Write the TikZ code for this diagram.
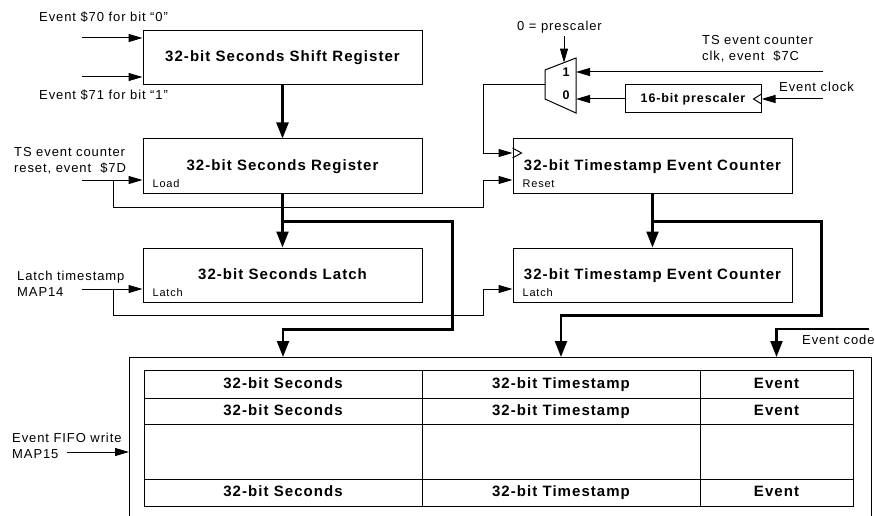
\documentclass[tikz,border=0pt]{standalone}
\usepackage{fontspec}
\setmainfont{Liberation Sans}[LetterSpace=7]
\usetikzlibrary{arrows.meta}

\tikzset{
  regbox/.style={draw, line width=1pt, minimum width=279pt, minimum height=54pt,
    inner sep=0pt, text height=11pt, text depth=3pt, font=\bfseries\fontsize{15}{18}\selectfont},
  tag/.style={inner sep=0pt, anchor=base west, font=\fontsize{11}{13}\selectfont},
  lbl/.style={inner sep=0pt, anchor=west, align=left, font=\fontsize{13}{16}\selectfont},
  cell/.style={inner sep=0pt, text height=11pt, text depth=3pt, font=\bfseries\fontsize{15}{18}\selectfont},
  wire/.style={line width=1pt},
  sig/.style={line width=1pt, -{Triangle[length=14pt,width=8pt]}},
  bus/.style={line width=2.3pt, -{Triangle[length=16pt,width=12pt]}},
}

\begin{document}
\begin{tikzpicture}[x=1pt,y=-1pt]
  \useasboundingbox (0,0) rectangle (875,516);
  \clip (0,0) rectangle (875,516);

  % registers
  \node[regbox] (sreg) at (282.5,58) {32-bit Seconds Shift Register};
  \node[regbox] (sec) at (282.5,166) {32-bit Seconds Register};
  \node[regbox] (slatch) at (282.5,275) {32-bit Seconds Latch};
  \node[regbox] (tsc) at (652.5,166) {32-bit Timestamp Event Counter};
  \node[regbox] (tslatch) at (652.5,275) {32-bit Timestamp Event Counter};
  \node[tag] (secload) at ([xshift=10pt,yshift=6pt]sec.south west) {Load};
  \node[tag] (slatchin) at ([xshift=10pt,yshift=6pt]slatch.south west) {Latch};
  \node[tag] (tscrst) at ([xshift=10pt,yshift=6pt]tsc.south west) {Reset};
  \node[tag] (tslatchin) at ([xshift=10pt,yshift=6pt]tslatch.south west) {Latch};

  % prescaler and mux
  \node[draw, line width=1pt, minimum width=136pt, minimum height=28pt, inner sep=0pt,
    font=\bfseries\fontsize{12.5}{15}\selectfont] (pre) at (693,99) {16-bit prescaler\hspace{8pt}};
  \draw[wire] ([yshift=5pt]pre.east) -- ([xshift=-8pt]pre.east) -- ([yshift=-5pt]pre.east);
  \draw[wire] (545,70) -- (576,58) -- (576,113) -- (545,99) -- cycle;
  \coordinate (muxout) at (545,85);
  \coordinate (mux1) at (576,72);
  \coordinate (mux0) at (576,99);
  \coordinate (muxsel) at (564,62.6);
  \node[cell, font=\bfseries\fontsize{12.5}{15}\selectfont] (m1) at (566,73) {1};
  \node[cell, font=\bfseries\fontsize{12.5}{15}\selectfont] (m0) at (566,96) {0};

  % fifo
  \node[draw, line width=1pt, anchor=north west, minimum width=742pt, minimum height=180pt,
    inner sep=0pt] (fifo) at (129,357) {};
  \draw[wire] (144,370) rectangle (853,506);
  \foreach \y in {398,424,479} \draw[wire] (144,\y) -- (853,\y);
  \foreach \x in {422,700} \draw[wire] (\x,370) -- (\x,506);
  \foreach \y/\n in {384/a,411/b,492/c} {
    \node[cell] (colsec\n) at (283,\y) {32-bit Seconds};
    \node[cell] (colts\n) at (561,\y) {32-bit Timestamp};
    \node[cell] (colev\n) at (776.5,\y) {Event};
  }

  % inputs and labels
  \coordinate (e70) at (82,38);
  \coordinate (e71) at (82,77);
  \coordinate (rst) at (82,180);
  \coordinate (rstj) at (113,180);
  \coordinate (lts) at (82,289);
  \coordinate (ltsj) at (113,289);
  \coordinate (kx) at (483,0);
  \coordinate (clkin) at ([yshift=13pt]tsc.west);
  \coordinate (tsclk) at (823,72);
  \coordinate (evclk) at (823,99);
  \coordinate (selin) at (564,36);
  \coordinate (evc) at (869,329);
  \coordinate (fw) at (67,452);

  \node[lbl] (l70) at (39,17) {Event \$70 for bit “0”};
  \node[lbl] (l71) at (39,95) {Event \$71 for bit “1”};
  \node[lbl] (lrst) at (14,161) {TS event counter\\reset, event\ \ \$7D};
  \node[lbl] (llts) at (17,283.5) {Latch timestamp\\MAP14};
  \node[lbl] (lfw) at (12,446) {Event FIFO write\\MAP15};
  \node[lbl] (lsel) at (517,27) {0 = prescaler};
  \node[lbl] (lclk) at (702,49) {TS event counter\\clk, event\ \ \$7C};
  \node[lbl] (levclk) at (779,87) {Event clock};
  \node[lbl] (levc) at (802,340) {Event code};

  % thin connectors
  \draw[sig] (e70) -- (e70 -| sreg.west);
  \draw[sig] (e71) -- (e71 -| sreg.west);
  \draw[sig] (rst) -- (rst -| sec.west);
  \draw[sig] (rstj) -- ++(0,27) -| (kx |- rst) -- (tsc.west |- rst);
  \draw[sig] (lts) -- (lts -| slatch.west);
  \draw[sig] (ltsj) -- ++(0,26) -| (kx |- lts) -- (tslatch.west |- lts);
  \draw[sig] (muxout) -- (muxout -| kx) |- (clkin);
  \draw[wire] ([yshift=5pt]clkin) -- ([xshift=9pt]clkin) -- ([yshift=-5pt]clkin);
  \draw[sig] (tsclk) -- (mux1);
  \draw[sig] (evclk) -- (pre.east);
  \draw[sig] (pre.west) -- (mux0);
  \draw[sig] (selin) -- (muxsel);
  \draw[sig] (fw) -- (fw -| fifo.west);

  % busses
  \draw[bus] (sreg.south) -- (sec.north);
  \draw[bus] (sec.south) -- (slatch.north);
  \draw[bus] (tsc.south) -- (tslatch.north);
  \draw[bus] ([yshift=-28pt]sec.south) -| ++(170,108) -| (colseca |- fifo.north);
  \draw[bus] ([yshift=-28pt]tsc.south) -| ++(169,94) -| (coltsa |- fifo.north);
  \draw[bus] (evc) -| (coleva |- fifo.north);
\end{tikzpicture}
\end{document}
